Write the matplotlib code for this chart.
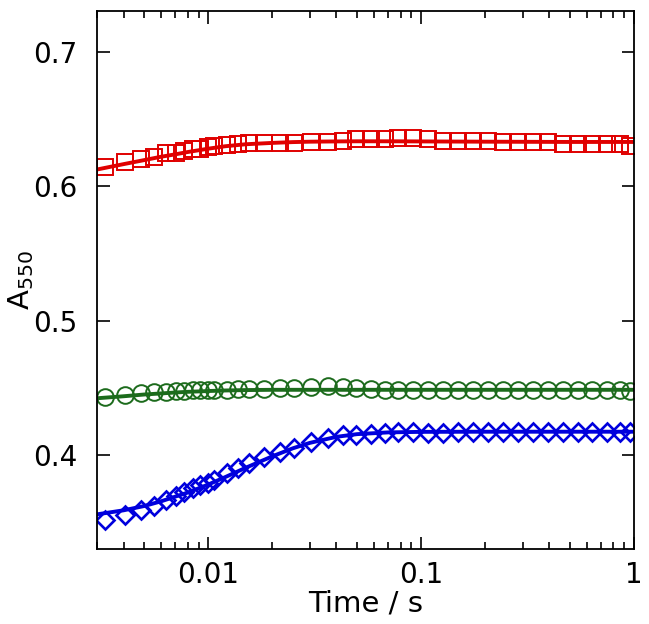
import matplotlib
matplotlib.use("Agg")
import matplotlib.pyplot as plt
from matplotlib.ticker import LogLocator, FixedLocator, NullFormatter

# sampled times (s), shared by the three traces
time = [0.00327, 0.00406, 0.00482, 0.00557, 0.00632, 0.00705, 0.00771, 0.00844,
        0.00917, 0.00993, 0.01067, 0.01224, 0.01374, 0.0156, 0.0182, 0.0216,
        0.0254, 0.0304, 0.0364, 0.0428, 0.0495, 0.0583, 0.0673, 0.0778,
        0.0915, 0.1076, 0.1267, 0.149, 0.175, 0.206, 0.243, 0.285,
        0.336, 0.395, 0.465, 0.547, 0.632, 0.744, 0.859, 0.958]

red_pts = [0.6145, 0.618, 0.620, 0.622, 0.6245, 0.625, 0.6265, 0.6275,
           0.628, 0.6295, 0.630, 0.631, 0.6315, 0.632, 0.632, 0.632,
           0.632, 0.633, 0.633, 0.634, 0.635, 0.635, 0.635, 0.636,
           0.636, 0.635, 0.634, 0.634, 0.634, 0.634, 0.633, 0.633,
           0.633, 0.633, 0.6316, 0.6316, 0.6316, 0.6316, 0.6316, 0.630]

green_pts = [0.4434, 0.4447, 0.4459, 0.4467, 0.4471, 0.4477, 0.4479, 0.448,
             0.448, 0.448, 0.448, 0.4484, 0.4489, 0.449, 0.449, 0.4497,
             0.450, 0.4505, 0.451, 0.4505, 0.4497, 0.449, 0.4487, 0.4484,
             0.4484, 0.4484, 0.4484, 0.4484, 0.4484, 0.4484, 0.4484, 0.4484,
             0.4484, 0.4484, 0.4484, 0.4484, 0.4484, 0.4484, 0.4484, 0.4477]

blue_pts = [0.3516, 0.3553, 0.359, 0.362, 0.3665, 0.3695, 0.3727, 0.3752,
            0.3777, 0.3794, 0.3814, 0.3864, 0.3901, 0.3938, 0.3987, 0.4025,
            0.405, 0.410, 0.4124, 0.4149, 0.4152, 0.4155, 0.4165, 0.4173,
            0.4173, 0.4165, 0.4160, 0.4173, 0.4173, 0.4173, 0.4173, 0.4173,
            0.4173, 0.4173, 0.4173, 0.4173, 0.4173, 0.4173, 0.4173, 0.4173]

# fitted curves
fit_time = [0.003, 0.004, 0.005, 0.006, 0.007, 0.008, 0.01, 0.012, 0.015,
            0.02, 0.025, 0.03, 0.04, 0.05, 0.07, 0.1, 0.2, 0.5, 1.0]
red_fit = [0.6125, 0.6165, 0.6195, 0.622, 0.6238, 0.6255, 0.628, 0.6298, 0.6313,
           0.6323, 0.6329, 0.6332, 0.6334, 0.6335, 0.6335, 0.6334, 0.6332, 0.633, 0.633]
green_fit = [0.4422, 0.4437, 0.4450, 0.4458, 0.4465, 0.447, 0.4476, 0.448, 0.4483,
             0.4485, 0.4485, 0.4485, 0.4485, 0.4485, 0.4485, 0.4485, 0.4485, 0.4485, 0.4485]
blue_fit = [0.3558, 0.3588, 0.362, 0.3655, 0.369, 0.372, 0.378, 0.3835, 0.3905,
            0.399, 0.405, 0.409, 0.4135, 0.4155, 0.4168, 0.4172, 0.4173, 0.4173, 0.4173]

red = "#e00000"
green = "#1c6b1c"
blue = "#0000dd"

fig = plt.figure(figsize=(6.49, 6.24), dpi=100)
ax = fig.add_axes([0.1495, 0.1202, 0.8274, 0.8622])

ax.plot(time, red_pts, "s", ms=11.5, mfc="none", mec=red, mew=1.4)
ax.plot(fit_time, red_fit, "-", color=red, lw=2.8)
ax.plot(time, green_pts, "o", ms=12, mfc="none", mec=green, mew=1.4)
ax.plot(fit_time, green_fit, "-", color=green, lw=2.8)
ax.plot(time, blue_pts, "D", ms=9, mfc="none", mec=blue, mew=1.9)
ax.plot(fit_time, blue_fit, "-", color=blue, lw=2.8)

ax.set_xscale("log")
ax.set_xlim(0.003, 1)
ax.set_ylim(0.33, 0.7305)
ax.set_xticks([0.01, 0.1, 1])
ax.set_xticklabels(["0.01", "0.1", "1"])
ax.xaxis.set_minor_locator(LogLocator(base=10, subs=range(2, 10)))
ax.xaxis.set_minor_formatter(NullFormatter())
ax.yaxis.set_major_locator(FixedLocator([0.4, 0.5, 0.6, 0.7]))
ax.set_yticklabels(["0.4", "0.5", "0.6", "0.7"])

ax.tick_params(which="both", direction="in", top=True, right=True, width=1.2)
ax.tick_params(which="major", length=9, labelsize=20, pad=9)
ax.tick_params(which="minor", length=5)
ax.tick_params(axis="y", pad=14)
for sp in ax.spines.values():
    sp.set_linewidth(1.3)

ax.set_xlabel("Time / s", fontsize=21, labelpad=0)
ax.set_ylabel(r"A$_{550}$", fontsize=21, labelpad=-2)

fig.savefig("out.png", dpi=100)
